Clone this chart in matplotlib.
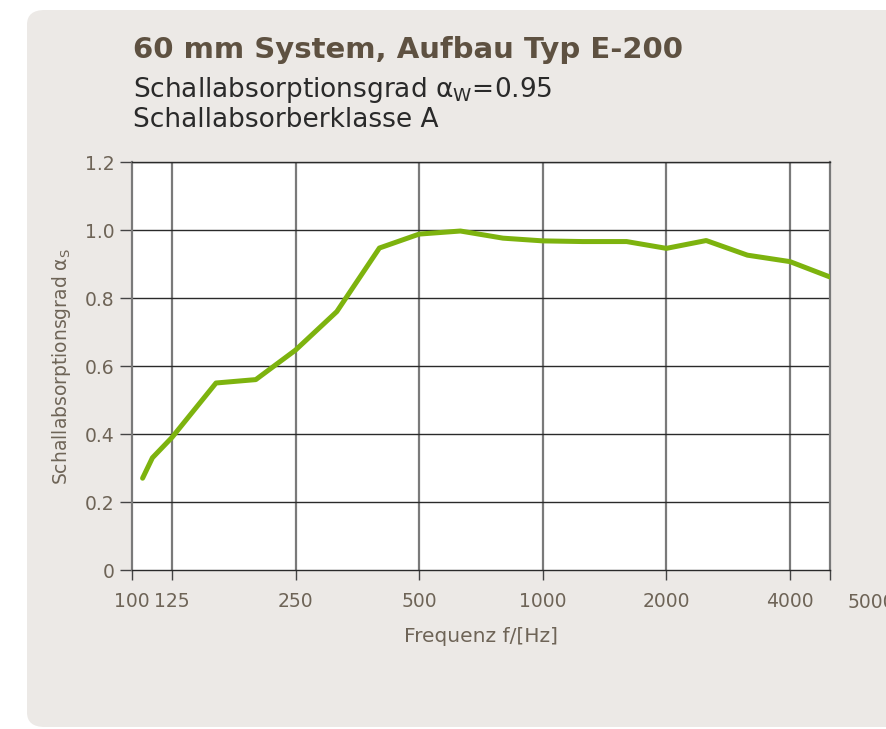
import matplotlib
matplotlib.use("Agg")
import matplotlib.pyplot as plt
from matplotlib.patches import FancyBboxPatch
from matplotlib.ticker import FixedLocator, FixedFormatter, NullLocator

# Data
freqs = [106, 112, 125, 160, 200, 250, 315, 400, 500, 630, 800, 1000, 1250, 1600, 2000, 2500, 3150, 4000, 5000]
alpha_s = [0.27, 0.33, 0.39, 0.55, 0.56, 0.647, 0.76, 0.947, 0.988, 0.997, 0.976, 0.968, 0.966, 0.966, 0.946, 0.969, 0.926, 0.907, 0.862]
x_ticks = [100, 125, 250, 500, 1000, 2000, 4000, 5000]
x_ticklabels = ["100", "125", "250", "500", "1000", "2000", "4000", ""]
x_grid = [125, 250, 500, 1000, 2000, 4000]
y_ticks = [0, 0.2, 0.4, 0.6, 0.8, 1.0, 1.2]
y_ticklabels = ["0", "0.2", "0.4", "0.6", "0.8", "1.0", "1.2"]

plt.rcParams['font.family'] = ['DejaVu Sans']
plt.rcParams['mathtext.fontset'] = 'dejavusans'

W, H = 887, 729
fig = plt.figure(figsize=(W / 100, H / 100), dpi=100)
fig.patch.set_facecolor('white')

panel_col = '#ECE9E6'
panel = FancyBboxPatch((27 / W, 2 / H), 1.0, (727 - 10) / H,
                       boxstyle="round,pad=0,rounding_size=0.02",
                       transform=fig.transFigure, facecolor=panel_col,
                       edgecolor='none', zorder=-10)
fig.add_artist(panel)

tick_col = '#6E6457'
ax = fig.add_axes([132.2 / W, (729 - 570) / H, (829.8 - 132.2) / W, (570 - 162) / H])
ax.set_zorder(1)
ax.set_facecolor('white')
ax.set_xscale('log')
ax.set_xlim(100, 5000)
ax.set_ylim(0, 1.2)

ax.plot(freqs, alpha_s, color='#7DB30E', lw=3.6, solid_capstyle='round',
        solid_joinstyle='round', zorder=5)

# grid
for g in x_grid:
    ax.axvline(g, color='#7a7a7a', lw=1.6, zorder=2)
for yv in y_ticks[1:]:
    ax.axhline(yv, color='#2a2a2a', lw=1.0, zorder=2)

ax.xaxis.set_major_locator(FixedLocator(x_ticks))
ax.xaxis.set_major_formatter(FixedFormatter(x_ticklabels))
ax.xaxis.set_minor_locator(NullLocator())
ax.yaxis.set_major_locator(FixedLocator(y_ticks))
ax.yaxis.set_major_formatter(FixedFormatter(y_ticklabels))

ax.tick_params(axis='x', direction='out', length=7, width=1.0, color='#444444',
               labelsize=13.5, labelcolor=tick_col, pad=9)
ax.tick_params(axis='y', direction='out', length=9, width=1.0, color='#444444',
               labelsize=13.5, labelcolor=tick_col, pad=4)

for s in ['left', 'right']:
    ax.spines[s].set_color('#7a7a7a')
    ax.spines[s].set_linewidth(1.6)
for s in ['top', 'bottom']:
    ax.spines[s].set_color('#2a2a2a')
    ax.spines[s].set_linewidth(1.0)

ax.annotate("5000", xy=(5000, 0), xycoords='data', xytext=(42, -23),
            textcoords='offset pixels', ha='center', va='top',
            fontsize=13.5, color=tick_col, annotation_clip=False)

ax.set_xlabel("Frequenz f/[Hz]", fontsize=14.5, color=tick_col, labelpad=11)
ax.set_ylabel(r"Schallabsorptionsgrad α$_\mathrm{S}$", fontsize=13.5, color=tick_col, labelpad=8)

fig.text(133 / W, 1 - 58 / H, "60 mm System, Aufbau Typ E-200", fontsize=21,
         fontweight='bold', color='#5E5141', ha='left', va='baseline')
fig.text(133 / W, 1 - 97 / H, r"Schallabsorptionsgrad α$_\mathrm{W}$=0.95", fontsize=19,
         color='#2a2a2a', ha='left', va='baseline')
fig.text(133 / W, 1 - 127 / H, "Schallabsorberklasse A", fontsize=19,
         color='#2a2a2a', ha='left', va='baseline')

fig.savefig("out.png", dpi=100, facecolor=fig.get_facecolor())
